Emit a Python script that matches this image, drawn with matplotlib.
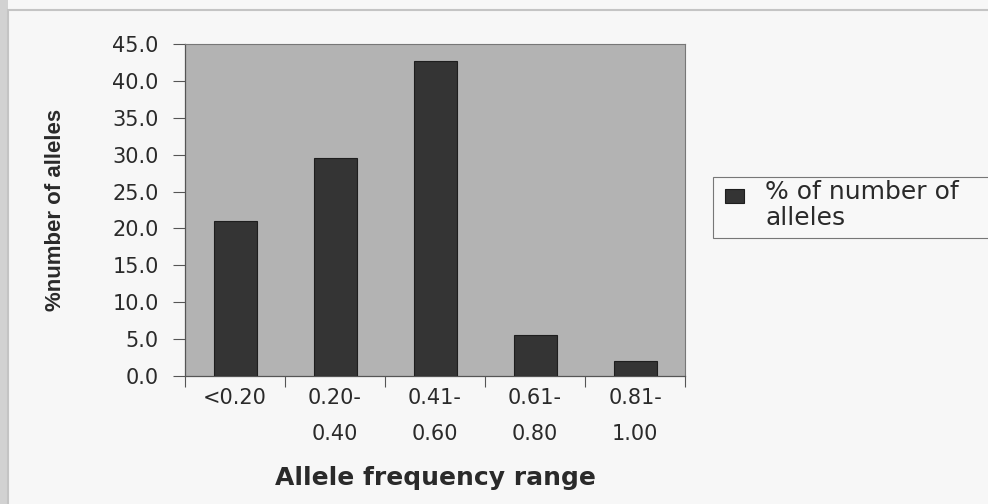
import matplotlib
matplotlib.use("Agg")
import matplotlib.pyplot as plt
from matplotlib.patches import Rectangle

# data
categories = ["<0.20", "0.20-\n0.40", "0.41-\n0.60", "0.61-\n0.80", "0.81-\n1.00"]
pct_alleles = [21.0, 29.6, 42.7, 5.5, 2.1]
y_ticks = [0, 5, 10, 15, 20, 25, 30, 35, 40, 45]
series_label = "% of number of\nalleles"

# the scan is wide, so use the wider DejaVu face for the text
plt.rcParams["font.family"] = ["DejaVu Sans"]
ink = "#2a2a2a"
bar_color = "#343434"

fig = plt.figure(figsize=(9.88, 5.04), dpi=100)
fig.patch.set_facecolor("#f7f7f7")


def px(x0, y0):
    # pixel position (from top left) -> figure fraction
    return x0 / 988, 1 - y0 / 504


# scan edge: grey strip on the left and the chart frame
fig.patches.append(Rectangle((0, 0), 8 / 988, 1, transform=fig.transFigure,
                             facecolor="#d2d2d2", edgecolor="none", zorder=0))
fig.patches.append(Rectangle((8 / 988, -0.1), 1.2, 1.1 - 10 / 504,
                             transform=fig.transFigure, facecolor="none",
                             edgecolor="#c4c4c4", linewidth=1.5, zorder=0))

ax = fig.add_axes([185 / 988, 1 - 376 / 504, 500 / 988, 332 / 504])
ax.set_facecolor("#b3b3b3")

x = list(range(len(categories)))
ax.bar(x, pct_alleles, width=0.43, color=bar_color, edgecolor="#1e1e1e",
       linewidth=0.8, zorder=3)

ax.set_xlim(-0.5, len(categories) - 0.5)
ax.set_ylim(0, 45)
ax.set_yticks(y_ticks)
ax.set_yticklabels([f"{v:.1f}" for v in y_ticks], fontsize=15, color=ink)

ax.set_xticks(x)
ax.set_xticklabels(categories, fontsize=15, color=ink, linespacing=1.95)
ax.tick_params(axis="x", which="major", length=0, pad=9)
ax.set_xticks([i - 0.5 for i in range(len(categories) + 1)], minor=True)
ax.tick_params(axis="x", which="minor", length=8, width=0.8, color="#555555",
               direction="out")
ax.tick_params(axis="y", length=9, width=0.8, color="#555555", pad=10)

for side in ["top", "right"]:
    ax.spines[side].set_color("#777777")
    ax.spines[side].set_linewidth(0.8)
for side in ["left", "bottom"]:
    ax.spines[side].set_color("#555555")
    ax.spines[side].set_linewidth(0.9)

ax.set_xlabel("Allele frequency range", fontsize=18, fontweight="bold",
              color=ink, labelpad=16)
ax.set_ylabel("%number of alleles", fontsize=16, fontweight="bold",
              color=ink, labelpad=33,
              family=["Liberation Sans", "DejaVu Sans"])

# legend box drawn by hand so the swatch sits on the first text line
lx, ly = px(713, 238)
fig.patches.append(Rectangle((lx, ly), 1.0, 61 / 504, transform=fig.transFigure,
                             facecolor="#f8f8f8", edgecolor="#777777",
                             linewidth=0.8, zorder=1))
sx, sy = px(725, 203)
fig.patches.append(Rectangle((sx, sy), 19 / 988, 14 / 504,
                             transform=fig.transFigure, facecolor=bar_color,
                             edgecolor="#1e1e1e", linewidth=0.8, zorder=2))
tx, ty = px(765, 180)
fig.text(tx, ty, series_label, fontsize=18, color=ink, va="top", ha="left",
         linespacing=1.1, zorder=3)

fig.savefig("out.png", dpi=100, facecolor=fig.get_facecolor())
